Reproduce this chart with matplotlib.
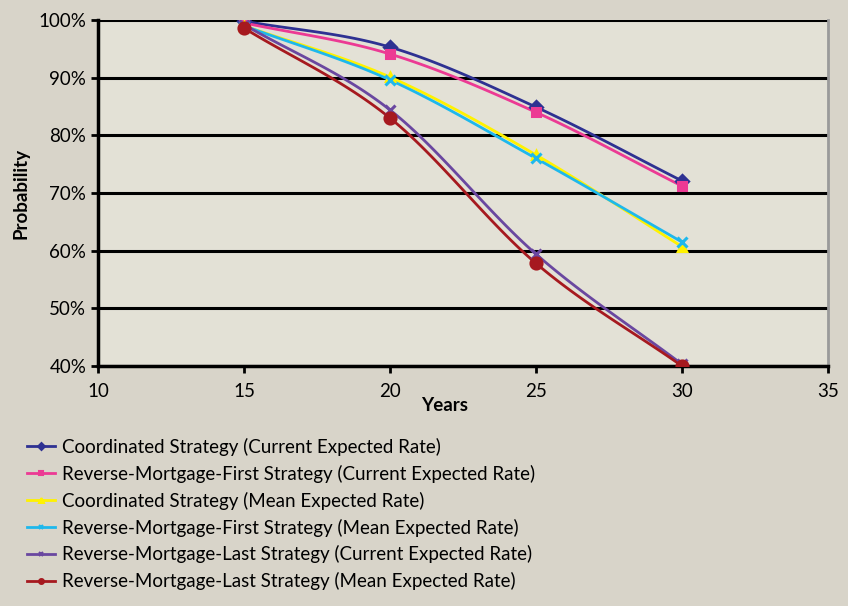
import numpy as np
import matplotlib.pyplot as plt
from matplotlib.ticker import PercentFormatter

plt.rcParams['font.family'] = ['Lato', 'DejaVu Sans']

years = [15, 20, 25, 30]
coord_cur = [99.8, 95.3, 84.9, 72.1]
rmf_cur = [99.5, 94.1, 84.0, 71.2]
coord_mean = [99.0, 90.1, 76.6, 60.7]
rmf_mean = [99.0, 89.6, 76.0, 61.5]
rml_cur = [99.2, 84.4, 59.4, 40.3]
rml_mean = [98.6, 83.0, 57.8, 40.0]

labels = ['Coordinated Strategy (Current Expected Rate)',
          'Reverse-Mortgage-First Strategy (Current Expected Rate)',
          'Coordinated Strategy (Mean Expected Rate)',
          'Reverse-Mortgage-First Strategy (Mean Expected Rate)',
          'Reverse-Mortgage-Last Strategy (Current Expected Rate)',
          'Reverse-Mortgage-Last Strategy (Mean Expected Rate)']
colors = ['#2E3192', '#EC3A94', '#FFF200', '#1EB8EC', '#6A47A0', '#A6191F']
markers = ['D', 's', '^', 'x', 'x', 'o']


def smooth(x, y, n=30):
    # Excel-style smoothed line (Catmull-Rom through the points)
    x = np.asarray(x, float)
    y = np.asarray(y, float)
    px = np.concatenate([[2 * x[0] - x[1]], x, [2 * x[-1] - x[-2]]])
    py = np.concatenate([[2 * y[0] - y[1]], y, [2 * y[-1] - y[-2]]])
    xs, ys = [], []
    t = np.linspace(0, 1, n)
    for i in range(1, len(px) - 2):
        for p, out in ((px, xs), (py, ys)):
            p0, p1, p2, p3 = p[i - 1], p[i], p[i + 1], p[i + 2]
            out.extend(0.5 * (2 * p1 + (-p0 + p2) * t
                              + (2 * p0 - 5 * p1 + 4 * p2 - p3) * t ** 2
                              + (-p0 + 3 * p1 - 3 * p2 + p3) * t ** 3))
    return np.array(xs), np.array(ys)


fig = plt.figure(figsize=(8.48, 6.06), dpi=100, facecolor='#D8D4C9')
ax = fig.add_axes([98 / 848, 1 - 366 / 606, 730 / 848, 346 / 606])
ax.set_facecolor('#E3E1D6')

series = [coord_cur, rmf_cur, coord_mean, rmf_mean, rml_cur, rml_mean]
handles = []
for vals, c, m, lab in zip(series, colors, markers, labels):
    sx, sy = smooth(years, vals)
    ax.plot(sx, sy, color=c, lw=2, zorder=3)
    ms = 6 if m in ('D', 's', '^') else 7
    if m == 'o':
        ms = 8
    ax.plot(years, vals, ls='none', marker=m, color=c, ms=ms, mew=2.2, zorder=4)
    h, = ax.plot([], [], color=c, lw=2, marker=m, ms=3.5, mew=1.5, label=lab)
    handles.append(h)

ax.set_xlim(10, 35)
ax.set_ylim(40, 100)
ax.set_xticks([10, 15, 20, 25, 30, 35])
ax.set_yticks(np.arange(40, 101, 10))
ax.yaxis.set_major_formatter(PercentFormatter(decimals=0))
ax.grid(axis='y', color='black', lw=2.2, zorder=1)
ax.set_axisbelow(True)

ax.spines['top'].set_visible(False)
ax.spines['right'].set_color('#9A9A9A')
ax.spines['right'].set_linewidth(2)
ax.spines['left'].set_linewidth(2.5)
ax.spines['bottom'].set_linewidth(2.5)
ax.tick_params(axis='both', width=2, length=5, labelsize=13.5, colors='black')
ax.tick_params(axis='x', pad=7)

ax.set_ylabel('Probability', fontsize=13.5, fontweight='bold', labelpad=6)
ax.set_xlabel('Years', fontsize=13.5, fontweight='bold')
ax.xaxis.set_label_coords(0.475, -0.09)

fig.legend(handles=handles, loc='upper left', bbox_to_anchor=(10 / 848, 1 - 421 / 606),
           frameon=False, fontsize=13.5, handlelength=1.5, handletextpad=0.4,
           labelspacing=0.47)

fig.savefig('out.png', dpi=100, facecolor=fig.get_facecolor())
